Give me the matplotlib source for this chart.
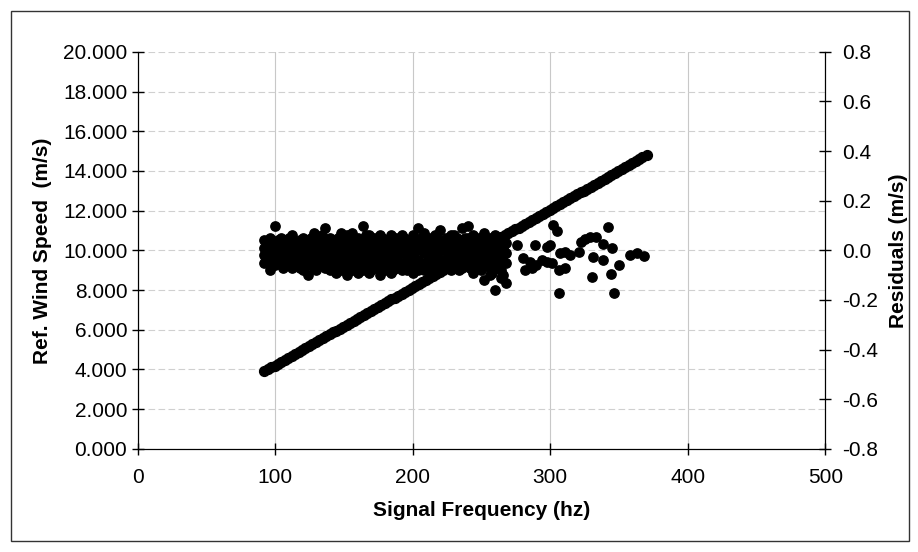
import matplotlib.pyplot as plt
from matplotlib.patches import Rectangle

# Ref. wind speed vs signal frequency (the straight band of dots)
freq = [92, 94.5, 97, 99.5, 102, 104.5, 107, 109.5, 112, 114.5, 117, 119.5,
        122, 124.5, 127, 129.5, 132, 134.5, 137, 139.5, 142, 144.5, 147, 149.5,
        152, 154.5, 157, 159.5, 162, 164.5, 167, 169.5, 172, 174.5, 177, 179.5,
        182, 184.5, 187, 189.5, 192, 194.5, 197, 199.5, 202, 204.5, 207, 209.5,
        212, 214.5, 217, 219.5, 222, 224.5, 227, 229.5, 232, 234.5, 237, 239.5,
        242, 244.5, 247, 249.5, 252, 254.5, 257, 259.5, 262, 264.5, 267, 269.5,
        272, 274.5, 277, 279.5, 282, 284.5, 287, 289.5, 292, 294.5, 297, 299.5,
        302, 304.5, 307, 309.5, 312, 314.5, 317, 319.5, 322, 324.5, 327, 329.5,
        332, 334.5, 337, 339.5, 342, 344.5, 347, 349.5, 352, 354.5, 357, 359.5,
        362, 364.5, 367, 370]
speed = [3.90, 4.00, 4.10, 4.19, 4.29, 4.39, 4.49, 4.59, 4.68, 4.78, 4.88, 4.98,
         5.08, 5.17, 5.27, 5.37, 5.47, 5.57, 5.66, 5.76, 5.86, 5.96, 6.06, 6.15,
         6.25, 6.35, 6.45, 6.55, 6.64, 6.74, 6.84, 6.94, 7.04, 7.13, 7.23, 7.33,
         7.43, 7.53, 7.62, 7.72, 7.82, 7.92, 8.02, 8.11, 8.21, 8.31, 8.41, 8.51,
         8.60, 8.70, 8.80, 8.90, 9.00, 9.09, 9.19, 9.29, 9.39, 9.49, 9.58, 9.68,
         9.78, 9.88, 9.98, 10.07, 10.17, 10.27, 10.37, 10.47, 10.56, 10.66,
         10.76, 10.86, 10.96, 11.05, 11.15, 11.25, 11.35, 11.45, 11.54, 11.64,
         11.74, 11.84, 11.94, 12.03, 12.13, 12.23, 12.33, 12.43, 12.52, 12.62,
         12.72, 12.82, 12.92, 13.01, 13.11, 13.21, 13.31, 13.41, 13.50, 13.60,
         13.70, 13.80, 13.90, 13.99, 14.09, 14.19, 14.29, 14.39, 14.48, 14.58,
         14.68, 14.80]

# Residuals: dense cloud between ~90 and ~270 hz (read column by column)
res_freq = [92]*4 + [96]*5 + [100]*5 + [104]*4 + [108]*4 + [112]*5 + [116]*4 + \
    [120]*5 + [124]*5 + [128]*5 + [132]*4 + [136]*5 + [140]*5 + [144]*5 + \
    [148]*5 + [152]*5 + [156]*5 + [160]*5 + [164]*5 + [168]*5 + [172]*4 + \
    [176]*5 + [180]*4 + [184]*5 + [188]*4 + [192]*5 + [196]*4 + [200]*5 + \
    [204]*5 + [208]*5 + [212]*4 + [216]*5 + [220]*5 + [224]*4 + [228]*5 + \
    [232]*4 + [236]*5 + [240]*5 + [244]*5 + [248]*4 + [252]*5 + [256]*5 + \
    [260]*5 + [264]*5 + [268]*4
res_val = [0.04, 0.01, -0.02, -0.05,
           0.05, 0.02, -0.01, -0.04, -0.08,
           0.10, 0.03, 0.00, -0.03, -0.06,
           0.05, 0.02, -0.02, -0.05,
           0.04, 0.01, -0.03, -0.06,
           0.06, 0.02, -0.01, -0.04, -0.07,
           0.03, 0.00, -0.03, -0.06,
           0.05, 0.02, -0.02, -0.05, -0.08,
           0.04, 0.01, -0.02, -0.06, -0.10,
           0.07, 0.03, -0.01, -0.04, -0.07,
           0.05, 0.01, -0.03, -0.06,
           0.09, 0.04, 0.00, -0.04, -0.07,
           0.05, 0.02, -0.02, -0.05, -0.08,
           0.04, 0.00, -0.03, -0.07, -0.09,
           0.07, 0.03, -0.01, -0.05, -0.08,
           0.06, 0.02, -0.02, -0.06, -0.10,
           0.07, 0.03, -0.01, -0.04, -0.08,
           0.05, 0.01, -0.03, -0.07, -0.09,
           0.10, 0.04, 0.00, -0.04, -0.08,
           0.06, 0.02, -0.02, -0.06, -0.09,
           0.05, 0.01, -0.03, -0.07,
           0.06, 0.03, -0.01, -0.05, -0.10,
           0.04, 0.00, -0.04, -0.08,
           0.06, 0.02, -0.02, -0.06, -0.09,
           0.05, 0.01, -0.03, -0.07,
           0.06, 0.03, -0.01, -0.05, -0.08,
           0.04, 0.00, -0.04, -0.08,
           0.06, 0.02, -0.02, -0.06, -0.09,
           0.09, 0.04, 0.00, -0.04, -0.08,
           0.07, 0.03, -0.01, -0.05, -0.08,
           0.05, 0.01, -0.03, -0.07,
           0.06, 0.02, -0.02, -0.06, -0.09,
           0.08, 0.04, 0.00, -0.04, -0.07,
           0.05, 0.01, -0.03, -0.06,
           0.06, 0.02, -0.02, -0.05, -0.08,
           0.05, 0.01, -0.03, -0.07,
           0.09, 0.04, 0.00, -0.04, -0.07,
           0.10, 0.05, 0.01, -0.03, -0.06,
           0.06, 0.02, -0.02, -0.05, -0.09,
           0.05, 0.01, -0.03, -0.07,
           0.07, 0.03, -0.01, -0.05, -0.12,
           0.05, 0.01, -0.03, -0.07, -0.10,
           0.06, 0.02, -0.02, -0.06, -0.16,
           0.04, 0.00, -0.04, -0.08, -0.11,
           0.03, -0.01, -0.05, -0.13]

# Residuals: in-between columns of the dense cloud
mid_freq = [94]*3 + [98]*3 + [102]*3 + [106]*3 + [110]*3 + [114]*3 + [118]*3 + \
    [122]*3 + [126]*3 + [130]*3 + [134]*3 + [138]*3 + [142]*3 + [146]*3 + \
    [150]*3 + [154]*3 + [158]*3 + [162]*3 + [166]*3 + [170]*3 + [174]*3 + \
    [178]*3 + [182]*3 + [186]*3 + [190]*3 + [194]*3 + [198]*3 + [202]*3 + \
    [206]*3 + [210]*3 + [214]*3 + [218]*3 + [222]*3 + [226]*3 + [230]*3 + \
    [234]*3 + [238]*3 + [242]*3 + [246]*3 + [250]*3 + [254]*3 + [258]*3 + \
    [262]*3 + [266]*3
mid_val = [0.03, 0.00, -0.04, 0.02, -0.02, -0.06, 0.04, 0.01, -0.04,
           0.03, -0.01, -0.07, 0.05, 0.00, -0.05, 0.02, -0.02, -0.05,
           0.04, 0.01, -0.07, 0.03, -0.01, -0.04, 0.05, 0.00, -0.05,
           0.02, -0.02, -0.08, 0.06, 0.01, -0.05, 0.03, -0.02, -0.06,
           0.04, 0.00, -0.07, 0.05, 0.01, -0.04, 0.03, -0.03, -0.07,
           0.05, 0.00, -0.05, 0.04, -0.02, -0.08, 0.03, 0.01, -0.06,
           0.06, -0.01, -0.05, 0.03, 0.00, -0.08, 0.04, -0.02, -0.06,
           0.05, 0.01, -0.07, 0.02, -0.02, -0.05, 0.04, 0.00, -0.08,
           0.03, -0.01, -0.06, 0.05, 0.01, -0.07, 0.03, -0.02, -0.05,
           0.04, 0.00, -0.08, 0.05, 0.02, -0.06, 0.03, -0.01, -0.07,
           0.04, 0.00, -0.05, 0.05, -0.02, -0.08, 0.03, 0.01, -0.06,
           0.04, -0.01, -0.07, 0.06, 0.00, -0.05, 0.03, -0.02, -0.08,
           0.05, 0.01, -0.06, 0.04, -0.01, -0.07, 0.03, 0.00, -0.05,
           0.05, -0.02, -0.08, 0.03, 0.01, -0.06, 0.04, -0.01, -0.09,
           0.02, -0.03, -0.07, 0.01, -0.02, -0.10]

# Residuals: scattered points above ~270 hz
sparse_freq = [276, 280, 282, 285, 287, 289, 290, 294, 298, 298, 300, 301, 302,
               305, 306, 306, 307, 311, 311, 314, 321, 322, 325, 329, 330, 331,
               333, 338, 338, 342, 344, 345, 346, 350, 358, 363, 368]
sparse_val = [0.02, -0.032, -0.08, -0.048, -0.072, 0.02, -0.06, -0.04, 0.012,
              -0.048, 0.02, -0.052, 0.104, 0.076, -0.08, -0.172, -0.012, -0.008,
              -0.072, -0.02, -0.008, 0.032, 0.044, 0.052, -0.108, -0.028, 0.052,
              0.024, -0.04, 0.096, -0.096, 0.008, -0.172, -0.06, -0.02, -0.012,
              -0.024]

plt.rcParams['font.family'] = ['Liberation Sans', 'DejaVu Sans']

fig = plt.figure(figsize=(9.18, 5.52), dpi=100)
ax = fig.add_axes([0.150, 0.187, 0.749, 0.719])

ax.scatter(freq, speed, s=50, color='black', zorder=3)
ax.set_xlim(0, 500)
ax.set_ylim(0, 20)
ax.set_xticks(range(0, 501, 100))
ax.set_yticks(range(0, 21, 2))
ax.set_yticklabels(['%.3f' % v for v in range(0, 21, 2)])
ax.grid(axis='x', color='#c8c8c8', linewidth=0.8)
ax.grid(axis='y', color='#d0d0d0', linewidth=0.8, linestyle=(0, (6, 3)))
ax.set_axisbelow(True)
ax.spines['top'].set_visible(False)
ax.tick_params(direction='inout', length=8, width=1, labelsize=15)
ax.tick_params(axis='x', pad=10)
ax.set_xlabel('Signal Frequency (hz)', fontsize=15, fontweight='bold', labelpad=10)
ax.set_ylabel('Ref. Wind Speed  (m/s)', fontsize=15, fontweight='bold', labelpad=8)

ax2 = ax.twinx()
ax2.scatter(res_freq, res_val, s=45, color='black', zorder=3)
ax2.scatter(mid_freq, mid_val, s=45, color='black', zorder=3)
ax2.scatter(sparse_freq, sparse_val, s=45, color='black', zorder=3)
ax2.set_ylim(-0.8, 0.8)
ax2.set_yticks([-0.8, -0.6, -0.4, -0.2, 0.0, 0.2, 0.4, 0.6, 0.8])
ax2.set_yticklabels(['%.1f' % v for v in [-0.8, -0.6, -0.4, -0.2, 0.0, 0.2, 0.4, 0.6, 0.8]])
ax2.spines['top'].set_visible(False)
ax2.tick_params(direction='inout', length=8, width=1, labelsize=15, pad=8)
ax2.set_ylabel('Residuals (m/s)', fontsize=15, fontweight='bold', labelpad=8)

# outer chart border
fig.patches.append(Rectangle((0.012, 0.02), 0.978, 0.96, transform=fig.transFigure,
                             fill=False, edgecolor='#333333', linewidth=1))

plt.savefig('out.png', dpi=100)
